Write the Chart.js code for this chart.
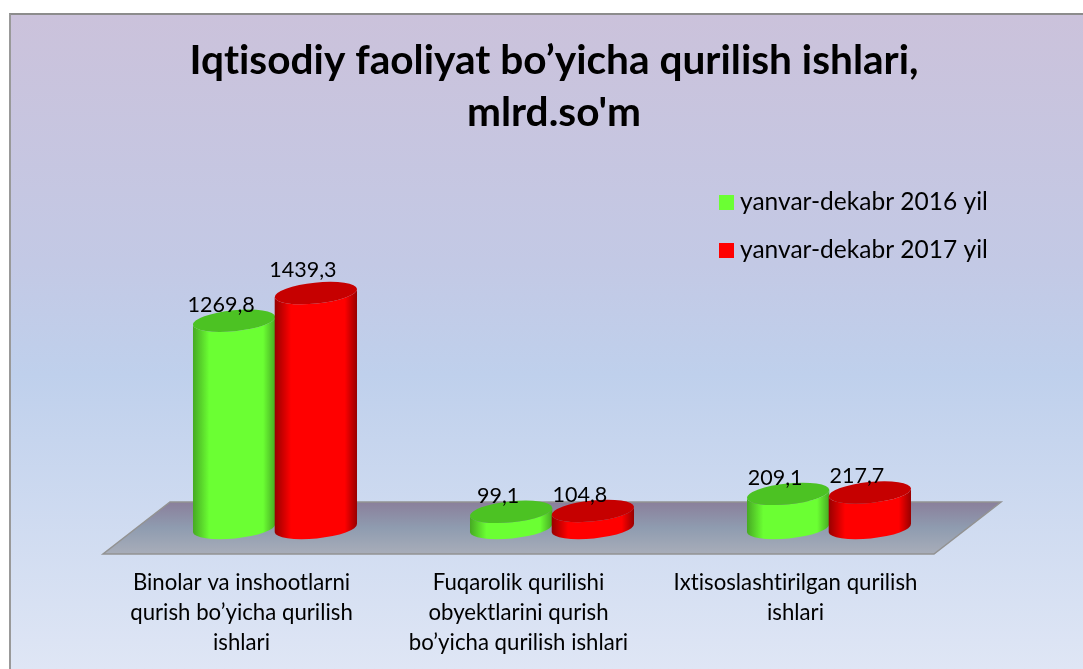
<!DOCTYPE html>
<html>
<head>
<meta charset="utf-8">
<script src="https://cdn.jsdelivr.net/npm/chart.js@4"></script>
<style>
    html, body { margin: 0; padding: 0; background: #fff; overflow: hidden; height: 100%; }
    #frame {
        position: absolute; left: 9px; top: 13px; width: 1090px; height: 656px;
        box-sizing: border-box; border-left: 2px solid #999; border-top: 2px solid #8c8c8c;
        background: linear-gradient(to bottom, #cbc2db 0%, #c3c9e5 38%, #bfd0ec 55%, #dfe6f5 100%);
    }
    #chart { position: absolute; left: 9px; top: 13px; }
</style>
</head>
<body>
<div id="frame"></div>
<canvas id="chart" width="1090" height="656"></canvas>
<script>
const titleLines = ['Iqtisodiy faoliyat bo’yicha qurilish ishlari,', "mlrd.so'm"];
const categories = [
    ['Binolar va inshootlarni', 'qurish bo’yicha qurilish', 'ishlari'],
    ['Fuqarolik qurilishi', 'obyektlarini qurish', 'bo’yicha qurilish ishlari'],
    ['Ixtisoslashtirilgan qurilish', 'ishlari']
];
const seriesNames = ['yanvar-dekabr 2016 yil', 'yanvar-dekabr 2017 yil'];
const values2016 = [1269.8, 99.1, 209.1];
const values2017 = [1439.3, 104.8, 217.7];

const FONT = 'Lato, "Open Sans", sans-serif';
// Fake 3D: the floor goes back by this much, the cylinders stand half way in
const FLOOR_DX = 67;
const FLOOR_DY = 52;
const TILT = -0.1;
const ELLIPSE_B = 10.5;

const looks = [
    { main: '#6bff33', edge: '#46a823', top: '#4cc223' },
    { main: '#ff0000', edge: '#960000', top: '#c60000' }
];

function drawFloor(ctx, area) {
    const { left, right, bottom } = area;
    const grad = ctx.createLinearGradient(0, bottom - FLOOR_DY, 0, bottom);
    grad.addColorStop(0, '#8a7f9b');
    grad.addColorStop(0.5, '#8f9cb0');
    grad.addColorStop(1, '#a8adb9');
    ctx.beginPath();
    ctx.moveTo(left, bottom);
    ctx.lineTo(right, bottom);
    ctx.lineTo(right + FLOOR_DX, bottom - FLOOR_DY);
    ctx.lineTo(left + FLOOR_DX, bottom - FLOOR_DY);
    ctx.closePath();
    ctx.fillStyle = grad;
    ctx.fill();
    ctx.strokeStyle = '#929292';
    ctx.lineWidth = 1.5;
    ctx.stroke();
}

function drawCylinder(ctx, bar, look) {
    const cx = bar.x + FLOOR_DX / 2;
    const a = bar.width / 2 + 0.5;
    const topY = bar.y - FLOOR_DY / 2;
    const baseY = bar.base - FLOOR_DY / 2;

    const grad = ctx.createLinearGradient(cx - a, 0, cx + a, 0);
    grad.addColorStop(0, look.edge);
    grad.addColorStop(0.2, look.main);
    grad.addColorStop(0.85, look.main);
    grad.addColorStop(1, look.edge);

    ctx.beginPath();
    ctx.ellipse(cx, topY, a, ELLIPSE_B, TILT, Math.PI, 0, true);
    ctx.ellipse(cx, baseY, a, ELLIPSE_B, TILT, 0, Math.PI, false);
    ctx.closePath();
    ctx.fillStyle = grad;
    ctx.fill();

    ctx.beginPath();
    ctx.ellipse(cx, topY, a, ELLIPSE_B, TILT, 0, Math.PI * 2);
    ctx.fillStyle = look.top;
    ctx.fill();
}

const cylinderPlugin = {
    id: 'cylinders',
    afterLayout(chart) {
        // centre the title on the whole canvas, not on the padded plot
        chart.titleBlock.left = 0;
        chart.titleBlock.right = chart.width;
    },
    beforeDraw(chart) {
        // a tiny spacing switches off the "ti" ligature of the font
        chart.ctx.letterSpacing = '0.01px';
    },
    beforeDatasetsDraw(chart) {
        const ctx = chart.ctx;
        ctx.save();
        drawFloor(ctx, chart.chartArea);
        chart.data.datasets.forEach((ds, i) => {
            chart.getDatasetMeta(i).data.forEach(bar => drawCylinder(ctx, bar, looks[i]));
        });
        ctx.restore();
    },
    // the library's flat bars are replaced by the cylinders above
    beforeDatasetDraw() {
        return false;
    },
    afterDatasetsDraw(chart) {
        const ctx = chart.ctx;
        ctx.save();
        ctx.fillStyle = '#000';
        ctx.font = '21.5px ' + FONT;
        ctx.textAlign = 'center';
        ctx.textBaseline = 'middle';
        chart.data.datasets.forEach((ds, i) => {
            chart.getDatasetMeta(i).data.forEach((bar, j) => {
                const text = String(ds.data[j]).replace('.', ',');
                // the tall 2017 label sits a bit higher in the original
                const lift = (i === 1 && j === 0) ? 23 : 16;
                ctx.fillText(text, bar.x + FLOOR_DX / 2 - 13, bar.y - FLOOR_DY / 2 - lift);
            });
        });

        // Legend sits inside the plot, top right
        ctx.textAlign = 'left';
        ctx.font = '24.5px ' + FONT;
        chart.data.datasets.forEach((ds, i) => {
            const y = 182 + i * 48;
            ctx.fillStyle = ds.backgroundColor;
            ctx.fillRect(710, y, 15, 15);
            ctx.fillStyle = '#000';
            ctx.fillText(ds.label, 731, y + 7);
        });
        ctx.restore();
    }
};

new Chart(document.getElementById('chart'), {
    type: 'bar',
    data: {
        labels: categories,
        datasets: [
            { label: seriesNames[0], data: values2016, backgroundColor: '#6bff33' },
            { label: seriesNames[1], data: values2017, backgroundColor: '#ff0000' }
        ]
    },
    options: {
        responsive: false,
        animation: false,
        layout: { padding: { left: 94, right: 165, bottom: 11, top: 0 } },
        datasets: { bar: { categoryPercentage: 0.59, barPercentage: 1 } },
        plugins: {
            legend: { display: false },
            tooltip: { enabled: false },
            title: {
                display: true,
                text: titleLines,
                color: '#000',
                font: { family: FONT, size: 40.6, weight: 'bold', lineHeight: 52 / 40.6 },
                padding: { top: 22, bottom: 7 }
            }
        },
        scales: {
            x: {
                afterFit: scale => { scale.height = 104; },
                grid: { display: false, drawTicks: false },
                border: { display: false },
                ticks: {
                    color: '#000',
                    padding: 14,
                    maxRotation: 0,
                    autoSkip: false,
                    font: { family: FONT, size: 22.2, lineHeight: 30 / 22.2 }
                }
            },
            y: { display: false, min: 0, max: 2500 }
        }
    },
    plugins: [cylinderPlugin]
});
</script>
</body>
</html>
